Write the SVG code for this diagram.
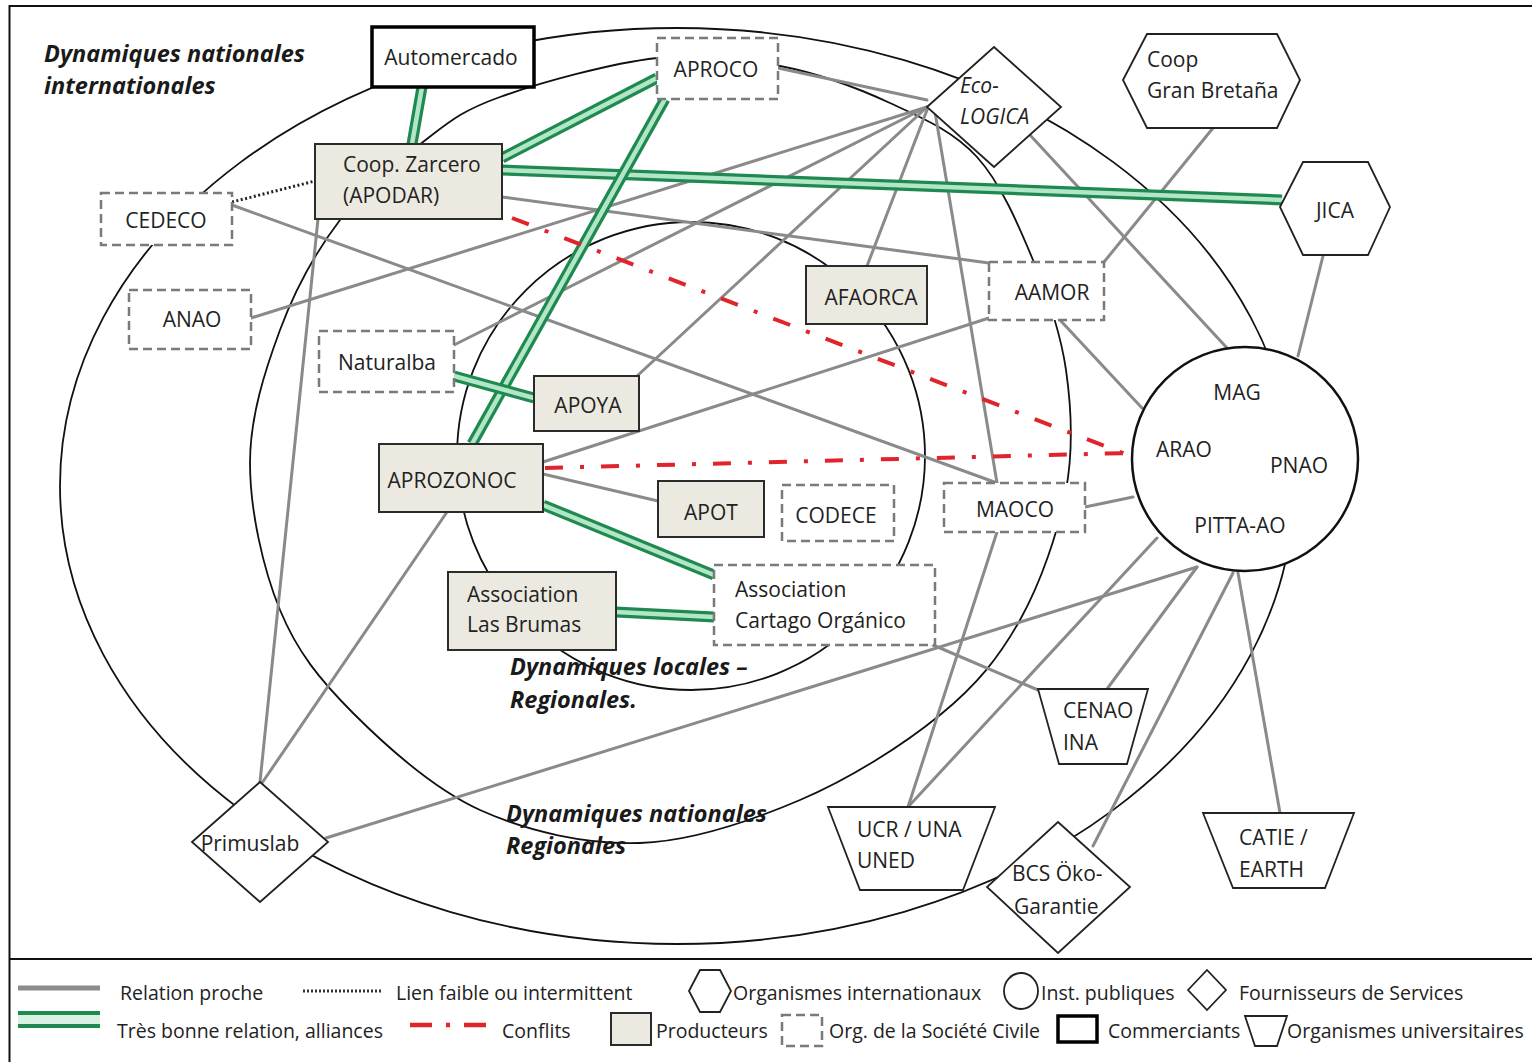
<svg xmlns="http://www.w3.org/2000/svg" width="1532" height="1062" viewBox="0 0 1532 1062">
<style>
text{font-family:"Open Sans","DejaVu Sans",sans-serif;fill:#222;}
.n{font-size:21px}
.lg{font-size:19.5px}
.rl{font-size:23.5px;font-weight:bold;font-style:italic;fill:#1a1a1a}
.ring{fill:none;stroke:#111;stroke-width:1.8}
.gl{stroke:#8a8a8a;stroke-width:3;fill:none;stroke-linecap:round}
.go{stroke:#1f8a4f;stroke-width:11;fill:none}
.gi{stroke:#b3e6c9;stroke-width:4.5;fill:none}
.rd{stroke:#e0242c;stroke-width:4;stroke-dasharray:18 17 4 17;fill:none}
.dt{stroke:#222;stroke-width:3;stroke-dasharray:2 2.5;fill:none}
.prod{fill:#ECEAE0;stroke:#2b2b2b;stroke-width:2}
.civ{fill:#fff;stroke:#7a7a7a;stroke-width:2.5;stroke-dasharray:9 5}
.com{fill:#fff;stroke:#000;stroke-width:3.5}
.shp{fill:#fff;stroke:#222;stroke-width:1.8}
.pub{fill:#fff;stroke:#111;stroke-width:2.5}
</style>
<rect x="0" y="0" width="1532" height="1062" fill="#fff"/>
<rect x="9.5" y="6" width="1540" height="1100" fill="none" stroke="#111" stroke-width="2"/>
<line x1="9.5" y1="959" x2="1532" y2="959" stroke="#111" stroke-width="2"/>

<g id="regions">
<ellipse class="ring" cx="677" cy="486" rx="617" ry="458"/>
<path class="ring" d="M250,463 C250,416.3 265,370.5 280,330 C295,289.5 316.2,251.3 340,220 C363.8,188.7 396.3,162.5 423,142 C449.7,121.5 461,111 500,97 C539,83 610.3,63.2 657,58 C703.7,52.8 741.2,58.5 780,66 C818.8,73.5 857.2,87.8 890,103 C922.8,118.2 953.2,130.8 977,157 C1000.8,183.2 1018.2,224.5 1033,260 C1047.8,295.5 1060.5,331.7 1066,370 C1071.5,408.3 1073.7,448.3 1066,490 C1058.3,531.7 1041,582.5 1020,620 C999,657.5 976.7,685 940,715 C903.3,745 850,778.7 800,800 C750,821.3 693.3,841.3 640,843 C586.7,844.7 527.8,831.7 480,810 C432.2,788.3 386.3,746.3 353,713 C319.7,679.7 297.2,651.7 280,610 C262.8,568.3 250,509.7 250,463 Z"/>
<circle class="ring" cx="691" cy="456" r="234"/>
</g>

<g id="connectors">
<line class="gl" x1="778" y1="68" x2="927" y2="100"/>
<line class="gl" x1="251" y1="318" x2="927" y2="107"/>
<line class="gl" x1="454" y1="345" x2="927" y2="107"/>
<line class="gl" x1="636" y1="377" x2="927" y2="107"/>
<line class="gl" x1="867" y1="266" x2="927" y2="110"/>
<line class="gl" x1="997" y1="483" x2="935" y2="112"/>
<line class="gl" x1="1030" y1="135" x2="1227" y2="348"/>
<line class="gl" x1="502" y1="197" x2="989" y2="263"/>
<line class="gl" x1="543" y1="462" x2="989" y2="318"/>
<line class="gl" x1="232" y1="205" x2="997" y2="483"/>
<line class="gl" x1="318" y1="219" x2="260" y2="782"/>
<line class="gl" x1="447" y1="512" x2="262" y2="783"/>
<line class="gl" x1="326" y1="838" x2="1197" y2="567"/>
<line class="gl" x1="1104" y1="262" x2="1213" y2="128"/>
<line class="gl" x1="1060" y1="320" x2="1142" y2="408"/>
<line class="gl" x1="1323" y1="256" x2="1298" y2="356"/>
<line class="gl" x1="1085" y1="507" x2="1133" y2="497"/>
<line class="gl" x1="997" y1="532" x2="908" y2="807"/>
<line class="gl" x1="908" y1="807" x2="1157" y2="538"/>
<line class="gl" x1="1107" y1="689" x2="1197" y2="567"/>
<line class="gl" x1="1093" y1="846" x2="1233" y2="573"/>
<line class="gl" x1="1280" y1="813" x2="1238" y2="573"/>
<line class="gl" x1="933" y1="645" x2="1038" y2="690"/>
<line class="gl" x1="543" y1="474" x2="658" y2="501"/>

<line class="go" x1="422" y1="87" x2="412" y2="144"/><line class="gi" x1="422" y1="87" x2="412" y2="144"/>
<line class="go" x1="502" y1="158" x2="657" y2="78"/><line class="gi" x1="502" y1="158" x2="657" y2="78"/>
<line class="go" x1="502" y1="170" x2="1282" y2="200"/><line class="gi" x1="502" y1="170" x2="1282" y2="200"/>
<line class="go" x1="665" y1="99" x2="472" y2="444"/><line class="gi" x1="665" y1="99" x2="472" y2="444"/>
<line class="go" x1="454" y1="376" x2="534" y2="398"/><line class="gi" x1="454" y1="376" x2="534" y2="398"/>
<line class="go" x1="543" y1="505" x2="714" y2="575"/><line class="gi" x1="543" y1="505" x2="714" y2="575"/>
<line class="go" x1="616" y1="612" x2="714" y2="617"/><line class="gi" x1="616" y1="612" x2="714" y2="617"/>

<line class="dt" x1="232" y1="202" x2="315" y2="181"/>

<line class="rd" x1="512" y1="218" x2="1128" y2="455"/>
<line class="rd" x1="545" y1="468" x2="1128" y2="453"/>
</g>

<g id="automercado"><rect class="com" x="372" y="27" width="162" height="60"/><text class="n" x="451" y="65" text-anchor="middle">Automercado</text></g>
<g id="aproco"><rect class="civ" x="657" y="38" width="121" height="61"/><text class="n" x="716" y="77" text-anchor="middle">APROCO</text></g>
<g id="ecologica"><polygon class="shp" points="927,107 994,47 1061,107 994,167"/><text class="n" x="960" y="93" font-style="italic">Eco-</text><text class="n" x="960" y="124" font-style="italic">LOGICA</text></g>
<g id="coop-gb"><polygon class="shp" points="1123,80 1147,34 1277,34 1300,80 1277,128 1147,128"/><text class="n" x="1147" y="67">Coop</text><text class="n" x="1147" y="98">Gran Bretaña</text></g>
<g id="jica"><polygon class="shp" points="1280,207 1303,162 1368,162 1390,207 1368,255 1303,255"/><text class="n" x="1335" y="218" text-anchor="middle">JICA</text></g>
<g id="zarcero"><rect class="prod" x="315" y="144" width="187" height="75"/><text class="n" x="343" y="172">Coop. Zarcero</text><text class="n" x="343" y="203">(APODAR)</text></g>
<g id="cedeco"><rect class="civ" x="101" y="193" width="131" height="52"/><text class="n" x="166" y="228" text-anchor="middle">CEDECO</text></g>
<g id="anao"><rect class="civ" x="129" y="290" width="122" height="59"/><text class="n" x="192" y="327" text-anchor="middle">ANAO</text></g>
<g id="naturalba"><rect class="civ" x="319" y="331" width="135" height="61"/><text class="n" x="387" y="370" text-anchor="middle">Naturalba</text></g>
<g id="afaorca"><rect class="prod" x="806" y="266" width="121" height="58"/><text class="n" x="871" y="305" text-anchor="middle">AFAORCA</text></g>
<g id="aamor"><rect class="civ" x="989" y="262" width="115" height="58"/><text class="n" x="1052" y="300" text-anchor="middle">AAMOR</text></g>
<g id="apoya"><rect class="prod" x="534" y="376" width="105" height="55"/><text class="n" x="588" y="413" text-anchor="middle">APOYA</text></g>
<g id="aprozonoc"><rect class="prod" x="379" y="444" width="164" height="68"/><text class="n" x="452" y="488" text-anchor="middle">APROZONOC</text></g>
<g id="apot"><rect class="prod" x="658" y="481" width="106" height="56"/><text class="n" x="711" y="520" text-anchor="middle">APOT</text></g>
<g id="codece"><rect class="civ" x="782" y="485" width="112" height="56"/><text class="n" x="836" y="523" text-anchor="middle">CODECE</text></g>
<g id="maoco"><rect class="civ" x="944" y="483" width="141" height="49"/><text class="n" x="1015" y="517" text-anchor="middle">MAOCO</text></g>
<g id="las-brumas"><rect class="prod" x="448" y="572" width="168" height="78"/><text class="n" x="467" y="602">Association</text><text class="n" x="467" y="632">Las Brumas</text></g>
<g id="cartago"><rect class="civ" x="714" y="565" width="221" height="80"/><text class="n" x="735" y="597">Association</text><text class="n" x="735" y="628">Cartago Orgánico</text></g>
<g id="cenao"><polygon class="shp" points="1038,689 1148,689 1127,764 1059,764"/><text class="n" x="1063" y="718">CENAO</text><text class="n" x="1063" y="750">INA</text></g>
<g id="ucr"><polygon class="shp" points="828,807 995,807 963,890 860,890"/><text class="n" x="857" y="837">UCR / UNA</text><text class="n" x="857" y="868">UNED</text></g>
<g id="catie"><polygon class="shp" points="1203,813 1354,813 1325,888 1233,888"/><text class="n" x="1239" y="845">CATIE /</text><text class="n" x="1239" y="877">EARTH</text></g>
<g id="bcs"><polygon class="shp" points="1058,822 1130,887 1058,953 987,887"/><text class="n" x="1012" y="881">BCS Öko-</text><text class="n" x="1014" y="914">Garantie</text></g>
<g id="primuslab"><polygon class="shp" points="192,842 260,782 328,842 260,902"/><text class="n" x="250" y="851" text-anchor="middle">Primuslab</text></g>
<g id="mag"><ellipse class="pub" cx="1245" cy="459" rx="113" ry="112"/><text class="n" x="1237" y="400" text-anchor="middle">MAG</text><text class="n" x="1184" y="457" text-anchor="middle">ARAO</text><text class="n" x="1299" y="473" text-anchor="middle">PNAO</text><text class="n" x="1240" y="533" text-anchor="middle">PITTA-AO</text></g>

<g id="region-labels">
<text class="rl" x="44" y="62">Dynamiques nationales</text>
<text class="rl" x="44" y="94">internationales</text>
<text class="rl" x="510" y="675">Dynamiques  locales –</text>
<text class="rl" x="510" y="708">Regionales.</text>
<text class="rl" x="506" y="822">Dynamiques nationales</text>
<text class="rl" x="506" y="854">Regionales</text>
</g>

<g id="legend">
<line x1="18" y1="988" x2="100" y2="988" stroke="#8c8c8c" stroke-width="5"/>
<text class="lg" x="120" y="1000">Relation proche</text>
<line x1="303" y1="991" x2="382" y2="991" stroke="#333" stroke-width="3" stroke-dasharray="2 2"/>
<text class="lg" x="396" y="1000">Lien faible ou intermittent</text>
<polygon class="shp" points="689,991 700,970 720,970 731,991 720,1012 700,1012"/>
<text class="lg" x="733" y="1000">Organismes internationaux</text>
<ellipse class="shp" cx="1021" cy="991" rx="17" ry="18"/>
<text class="lg" x="1041" y="1000">Inst. publiques</text>
<polygon class="shp" points="1188,990 1207,970 1226,990 1207,1010"/>
<text class="lg" x="1239" y="1000">Fournisseurs de Services</text>
<line x1="18" y1="1019.5" x2="100" y2="1019.5" stroke="#1f8a4f" stroke-width="17"/>
<line x1="18" y1="1019.5" x2="100" y2="1019.5" stroke="#d8f1e2" stroke-width="9"/>
<text class="lg" x="117" y="1038">Très bonne relation, alliances</text>
<line x1="410" y1="1025" x2="486" y2="1025" stroke="#e0242c" stroke-width="4.5" stroke-dasharray="22 14 4 14"/>
<text class="lg" x="502" y="1038">Conflits</text>
<rect class="prod" x="611" y="1013" width="40" height="32"/>
<text class="lg" x="656" y="1038">Producteurs</text>
<rect class="civ" x="782" y="1015" width="40" height="31" stroke-dasharray="7 5"/>
<text class="lg" x="829" y="1038">Org. de la Société Civile</text>
<rect class="com" x="1058" y="1016" width="39" height="26"/>
<text class="lg" x="1108" y="1038">Commerciants</text>
<polygon class="shp" points="1245,1016 1287,1016 1277,1046 1255,1046"/>
<text class="lg" x="1287" y="1038">Organismes universitaires</text>
</g>
</svg>
